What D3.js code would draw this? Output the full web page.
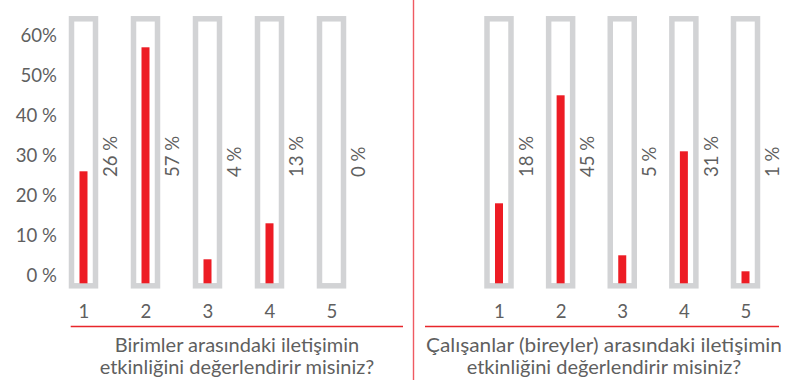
<!DOCTYPE html>
<html>
<head>
<meta charset="utf-8">
<script src="https://cdn.jsdelivr.net/npm/d3@7"></script>
<style>
  html, body { margin: 0; padding: 0; background: #fff; }
  svg { display: block; }
  text { font-family: Lato, "Open Sans", sans-serif; fill: #5f5f5f; }
</style>
</head>
<body>
<svg id="chart" width="793" height="385"></svg>
<script>
// Answer categories (rating 1-5)
const categories = ["1", "2", "3", "4", "5"];

// Share of answers per rating, in percent
const unitsValues = [26, 57, 4, 13, 0];       // Birimler arası
const employeesValues = [18, 45, 5, 31, 1];    // Çalışanlar arası

// Y axis tick labels
const tickValues = [0, 10, 20, 30, 40, 50, 60];
const tickLabels = ["0 %", "10 %", "20 %", "30 %", "40 %", "50%", "60%"];

// Question titles (two lines each)
const unitsTitle = ["Birimler arasındaki iletişimin", "etkinliğini değerlendirir misiniz?"];
const employeesTitle = ["Çalışanlar (bireyler) arasındaki iletişimin", "etkinliğini değerlendirir misiniz?"];

// Scale extent: the tube frame spans the full range, bars rise from its floor
const yMin = -2, yMax = 64;

const svg = d3.select("#chart");
const red = "#ed1c24";
const frameGray = "#d2d3d5";
const numSize = "18.6px";
const titleSize = "20px";

const y = d3.scaleLinear().domain([yMin, yMax]).range([283.3, 19.3]);

function panel(values, title, x0, x1, lineX0, lineX1, titleX, titleWidth, showAxis) {
  const x = d3.scalePoint().domain(categories).range([x0, x1]);
  const g = svg.append("g");
  const data = categories.map((c, i) => ({ c, v: values[i] }));

  // tube frames
  g.selectAll("rect.frame").data(data).join("rect")
    .attr("class", "frame")
    .attr("x", d => x(d.c) - 12)
    .attr("width", 24)
    .attr("y", y(yMax) - 0.5)
    .attr("height", y(yMin) - y(yMax) + 3)
    .attr("fill", "none")
    .attr("stroke", frameGray)
    .attr("stroke-width", 5.5);

  // value bars (an empty tube for a zero share)
  g.selectAll("rect.bar").data(data.filter(d => d.v > 0)).join("rect")
    .attr("class", "bar")
    .attr("x", d => x(d.c) - 4)
    .attr("width", 8)
    .attr("y", d => y(d.v))
    .attr("height", d => y(yMin) - y(d.v))
    .attr("fill", red);

  // rotated value labels
  g.selectAll("text.val").data(data).join("text")
    .attr("class", "val")
    .attr("transform", d => `translate(${x(d.c) + 27},177) rotate(-90)`)
    .attr("dy", "0.36em")
    .attr("text-anchor", "start")
    .style("font-size", numSize)
    .text(d => `${d.v} %`);

  // category axis labels
  const xAxis = d3.axisBottom(x).tickSize(0).tickPadding(0);
  const xa = g.append("g").attr("transform", "translate(0,305)").call(xAxis);
  xa.select(".domain").remove();
  xa.selectAll("text").attr("fill", null).attr("dy", "0.71em")
    .style("font-size", numSize).style("font-family", "Lato, sans-serif");

  // y axis labels
  if (showAxis) {
    const yAxis = d3.axisLeft(y).tickValues(tickValues)
      .tickFormat((d, i) => tickLabels[i]).tickSize(0).tickPadding(0);
    const ya = g.append("g").attr("transform", "translate(57,0)").call(yAxis);
    ya.select(".domain").remove();
    ya.selectAll("text").attr("fill", null)
      .style("font-size", numSize).style("font-family", "Lato, sans-serif");
  }

  // underline
  g.append("line")
    .attr("x1", lineX0).attr("x2", lineX1)
    .attr("y1", 326.5).attr("y2", 326.5)
    .attr("stroke", "#e8262b").attr("stroke-width", 1.4);

  // question title
  g.selectAll("text.title").data(title).join("text")
    .attr("class", "title")
    .attr("x", titleX)
    .attr("y", (d, i) => 352 + i * 22)
    .attr("text-anchor", "middle")
    .style("font-size", titleSize)
    .text(d => d)
    .each(function (d, i) {
      if (titleWidth[i]) {
        d3.select(this).attr("textLength", titleWidth[i]).attr("lengthAdjust", "spacingAndGlyphs");
      }
    });
}

panel(unitsValues, unitsTitle, 83.5, 331.5, 70.7, 403, 237, [0, 0], true);
panel(employeesValues, employeesTitle, 499, 745.5, 425, 779, 604, [356, 0], false);

// divider between the two questions
svg.append("line")
  .attr("x1", 413.5).attr("x2", 413.5)
  .attr("y1", 0).attr("y2", 380)
  .attr("stroke", "#ef5a62").attr("stroke-width", 1.4);
</script>
</body>
</html>
